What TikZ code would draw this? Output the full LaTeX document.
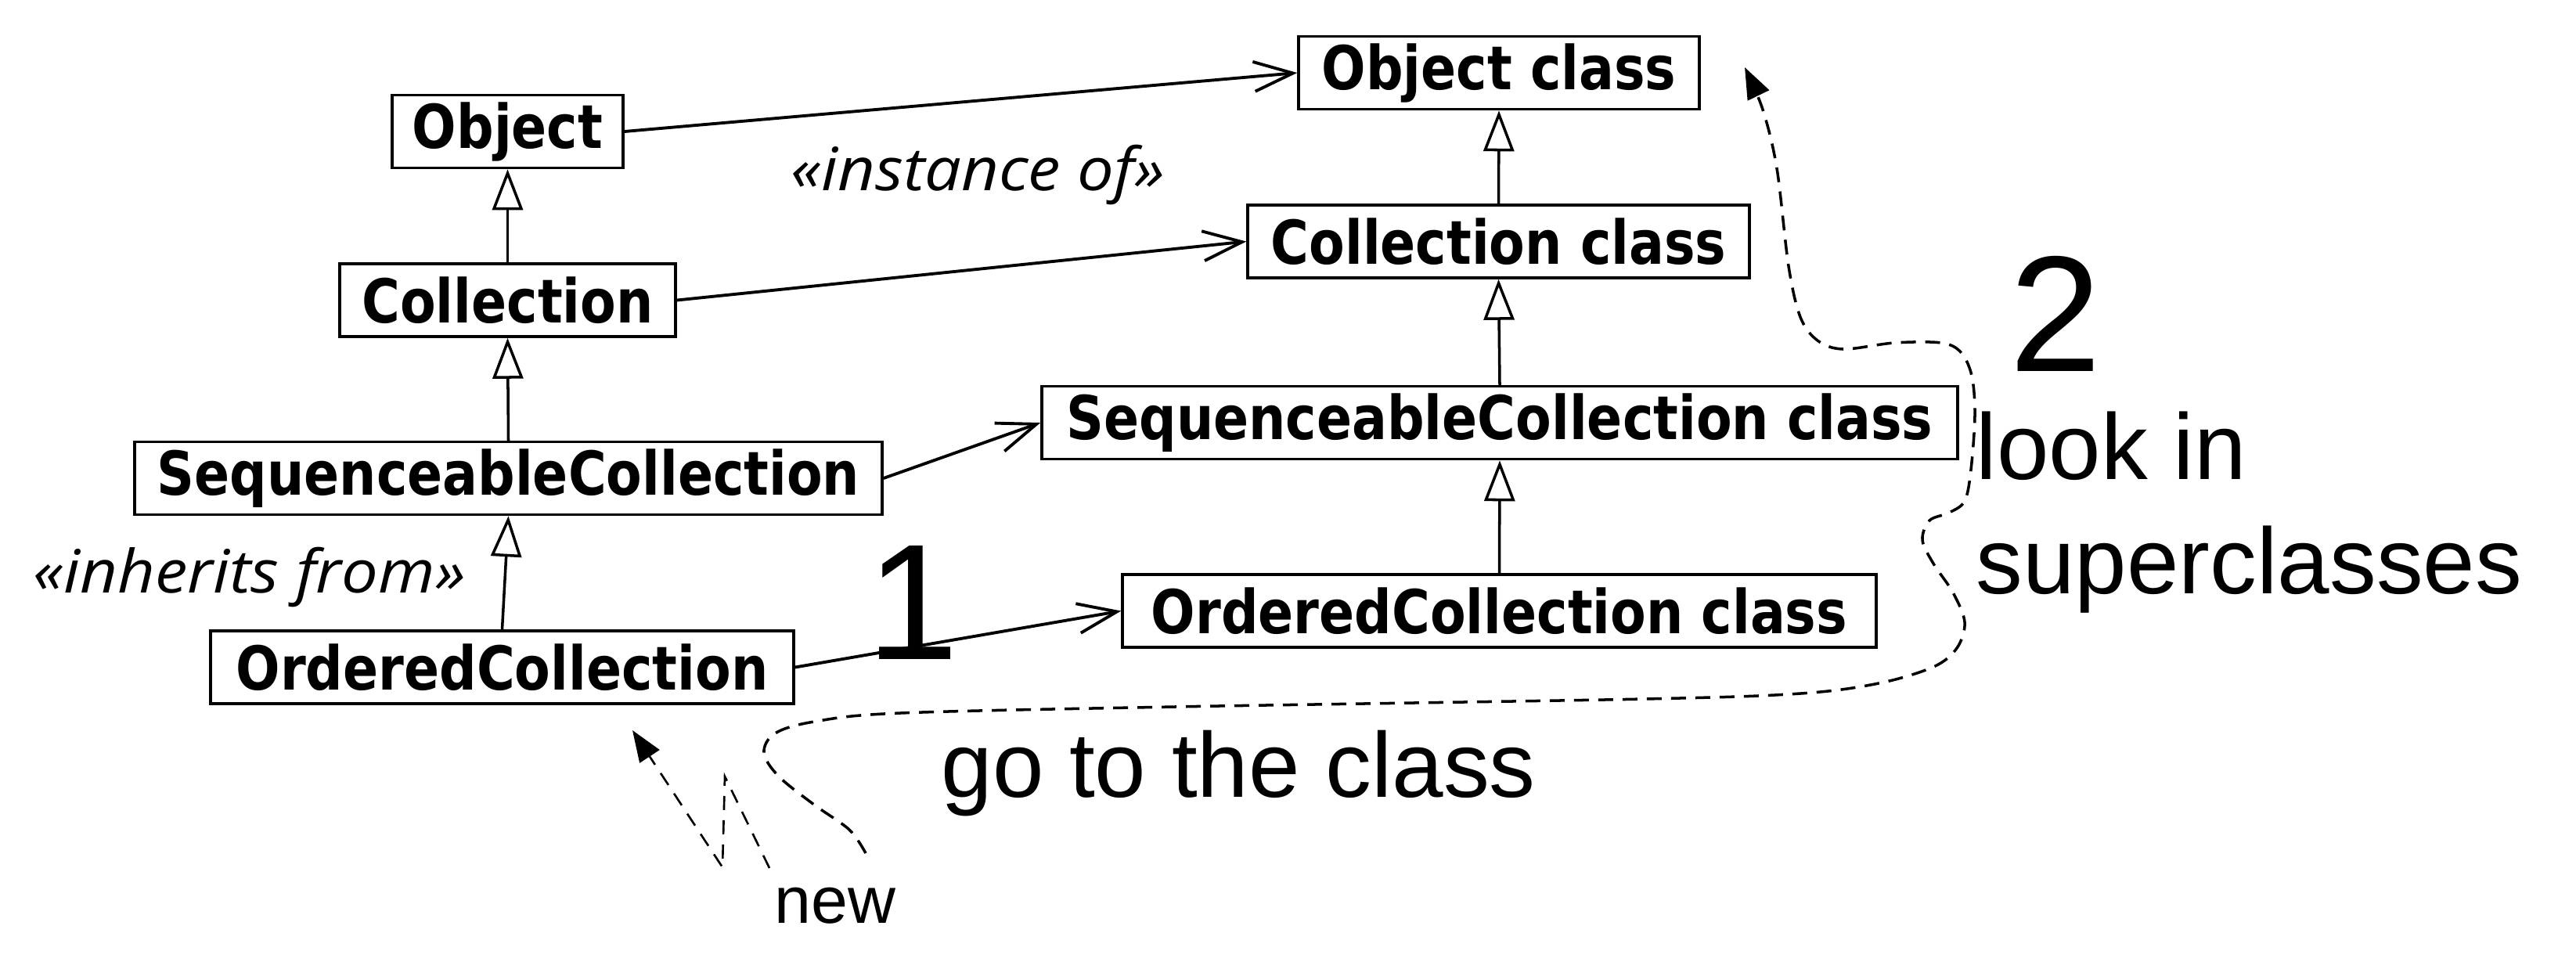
\documentclass[tikz,border=0pt]{standalone}
\usepackage{fontspec}
\usepackage{tikz}
\usetikzlibrary{arrows.meta}
\newfontfamily\boxfont[FakeStretch=0.86,BoldFont={DejaVu Sans Bold}]{DejaVu Sans}
\newfontfamily\stereofont[FakeStretch=1.09]{Open Sans}
\newfontfamily\helvfont{Liberation Sans}

\begin{document}
\begin{tikzpicture}[
	classbox/.style={draw, line width=1pt, inner sep=0pt, minimum height=0.93cm,
		font={\boxfont\bfseries\fontsize{22}{26}\selectfont}},
	stereo/.style={anchor=base west, inner sep=0pt,
		font={\stereofont\itshape\fontsize{21.7}{26}\selectfont}},
	bigtext/.style={anchor=base west, inner sep=0pt,
		font={\helvfont\fontsize{33.5}{40}\selectfont}},
	newtext/.style={anchor=base west, inner sep=0pt,
		font={\helvfont\fontsize{24}{29}\selectfont}},
	numtext/.style={anchor=base west, inner sep=0pt,
		font={\helvfont\fontsize{60}{72}\selectfont}},
	inherit/.style={line width=1pt, -{Triangle[open, length=5.2mm, width=3.9mm]}},
	instance/.style={line width=1.1pt, -{Straight Barb[length=5mm, width=3.8mm]}},
	route/.style={line width=1pt, dash pattern=on 1.9mm off 1.2mm,
		-{Triangle[length=4mm, width=3mm]}},
	bolt/.style={line width=0.75pt, dash pattern=on 1.8mm off 1.3mm,
		-{Triangle[length=4mm, width=3mm]}}]
	\useasboundingbox (0,0) rectangle (32.91,-12.37);

	% instances
	\node[classbox, minimum width=2.95cm] (obj) at (6.485,-1.68) {Object};
	\node[classbox, minimum width=4.29cm] (coll) at (6.485,-3.835) {Collection};
	\node[classbox, minimum width=9.55cm] (seq) at (6.495,-6.11) {SequenceableCollection};
	\node[classbox, minimum width=7.45cm] (ord) at (6.415,-8.525) {OrderedCollection};

	% classes
	\node[classbox, minimum width=5.12cm] (objc) at (19.15,-0.93) {Object class};
	\node[classbox, minimum width=6.41cm] (collc) at (19.145,-3.085) {Collection class};
	\node[classbox, minimum width=11.70cm] (seqc) at (19.16,-5.40) {SequenceableCollection class};
	\node[classbox, minimum width=9.63cm] (ordc) at (19.155,-7.805) {OrderedCollection class};

	\draw[inherit] (coll.north) -- (obj.south);
	\draw[inherit] (seq.north) -- (coll.south);
	\draw[inherit] (ord.north) -- (seq.south);
	\draw[inherit] (collc.north) -- (objc.south);
	\draw[inherit] (seqc.north) -- (collc.south);
	\draw[inherit] (ordc.north) -- (seqc.south);

	\draw[instance] (obj.east) -- (objc.west);
	\draw[instance] (coll.east) -- (collc.west);
	\draw[instance] (seq.east) -- (seqc.west);
	\draw[instance] (ord.east) -- (ordc.west);

	\node[stereo] (instof) at (10.10,-2.43) {«instance of»};
	\node[stereo] (inhfrom) at (0.42,-7.57) {«inherits from»};

	\node[numtext] (one) at (11.07,-8.42) {1};
	\node[numtext] (two) at (25.67,-4.74) {2};
	\node[bigtext] (goto) at (12.02,-10.18) {go to the class};
	\node[bigtext, font={\helvfont\fontsize{34}{40}\selectfont}] (lookin) at (25.24,-6.12) {look in};
	\node[bigtext, font={\helvfont\fontsize{34}{40}\selectfont}] (supcl) at (25.24,-7.58) {superclasses};
	\node[newtext] (newmsg) at (9.89,-11.79) {new};

	% message send
	\coordinate (boltend) at (9.83,-11.09);
	\coordinate (bolttip) at (8.08,-9.33);
	\draw[bolt] (boltend) -- (9.26,-9.92) -- (9.23,-11.08) -- (bolttip);

	% lookup path
	\coordinate (gostart) at (11.06,-10.90);
	\coordinate (looktip) at (22.29,-0.86);
	\draw[route] plot[smooth, tension=0.55] coordinates {(gostart)
		(10.85,-10.60) (10.40,-10.28) (9.95,-9.92) (9.76,-9.62) (9.90,-9.37)
		(10.40,-9.22) (11.50,-9.11) (15.00,-9.03) (21.00,-8.93) (23.00,-8.86)
		(24.00,-8.73) (24.70,-8.52) (25.00,-8.28) (25.10,-7.95) (24.95,-7.57)
		(24.70,-7.20) (24.56,-6.90) (24.65,-6.65) (24.90,-6.55) (25.10,-6.40)
		(25.18,-6.00) (25.23,-5.30) (25.19,-4.80) (25.05,-4.50) (24.80,-4.38)
		(24.20,-4.38) (23.55,-4.46) (23.22,-4.35) (23.00,-4.05) (22.85,-3.40)
		(22.70,-2.15) (22.52,-1.40) (looktip)};
\end{tikzpicture}
\end{document}
